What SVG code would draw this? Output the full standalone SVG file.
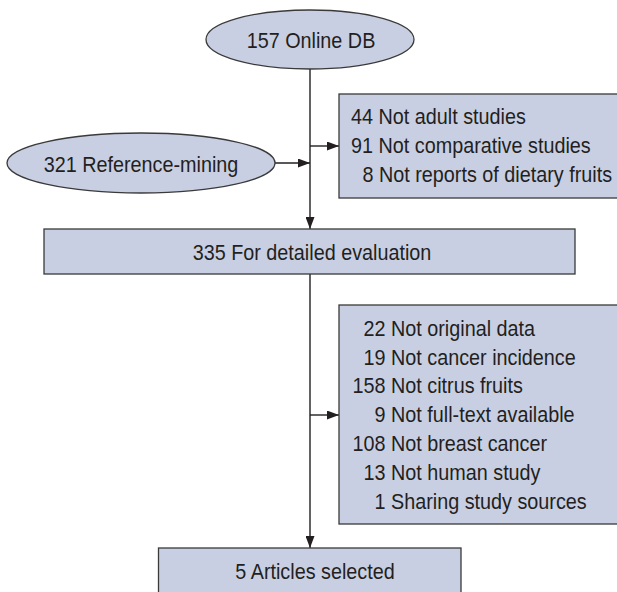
<svg xmlns="http://www.w3.org/2000/svg" width="617" height="592" viewBox="0 0 617 592">
<style>
.shape{fill:#c9cfe3;stroke:#3a3a3a;stroke-width:1.3}
.t{font-family:"Liberation Sans",Arial,sans-serif;font-size:22px;fill:#231f20}
.c{text-anchor:middle}
.conn line{stroke:#231f20;stroke-width:1.4;fill:none}
</style>
<defs>
<marker id="arr" markerUnits="userSpaceOnUse" markerWidth="12" markerHeight="9" refX="12" refY="4.5" orient="auto">
<path d="M0,0 L12,4.5 L0,9 z" fill="#231f20"/>
</marker>
</defs>
<rect width="617" height="592" fill="#ffffff"/>
<g id="connectors" class="conn">
<line x1="310" y1="69" x2="310" y2="229" marker-end="url(#arr)"/>
<line x1="275" y1="163" x2="310" y2="163" marker-end="url(#arr)"/>
<line x1="310" y1="146" x2="339" y2="146" marker-end="url(#arr)"/>
<line x1="310" y1="274" x2="310" y2="548" marker-end="url(#arr)"/>
<line x1="310" y1="415" x2="339" y2="415" marker-end="url(#arr)"/>
</g>
<g id="online-db">
<ellipse class="shape" cx="310" cy="39.5" rx="104" ry="29.5"/>
<text class="t c" transform="translate(311,48) scale(0.9,1)">157 Online DB</text>
</g>
<g id="reference-mining">
<ellipse class="shape" cx="141" cy="163" rx="134" ry="30"/>
<text class="t c" transform="translate(141,172) scale(0.9,1)">321 Reference-mining</text>
</g>
<g id="excluded-1">
<rect class="shape" x="339" y="94" width="290" height="104"/>
<text class="t" transform="translate(351,124) scale(0.9,1)">44 Not adult studies</text>
<text class="t" transform="translate(351,153) scale(0.9,1)">91 Not comparative studies</text>
<text class="t" transform="translate(362.5,182) scale(0.9,1)">8 Not reports of dietary fruits</text>
</g>
<g id="detailed-evaluation">
<rect class="shape" x="44" y="229" width="531" height="45"/>
<text class="t c" transform="translate(312,260) scale(0.9,1)">335 For detailed evaluation</text>
</g>
<g id="excluded-2">
<rect class="shape" x="339" y="305" width="290" height="219"/>
<text class="t" transform="translate(363.5,336) scale(0.9,1)">22 Not original data</text>
<text class="t" transform="translate(363.5,365) scale(0.9,1)">19 Not cancer incidence</text>
<text class="t" transform="translate(352.5,393) scale(0.9,1)">158 Not citrus fruits</text>
<text class="t" transform="translate(374.5,422) scale(0.9,1)">9 Not full-text available</text>
<text class="t" transform="translate(352.5,451) scale(0.9,1)">108 Not breast cancer</text>
<text class="t" transform="translate(363.5,480) scale(0.9,1)">13 Not human study</text>
<text class="t" transform="translate(374.5,509) scale(0.9,1)">1 Sharing study sources</text>
</g>
<g id="articles-selected">
<rect class="shape" x="158.5" y="548" width="302.5" height="50"/>
<text class="t c" transform="translate(315,579) scale(0.9,1)">5 Articles selected</text>
</g>
</svg>
